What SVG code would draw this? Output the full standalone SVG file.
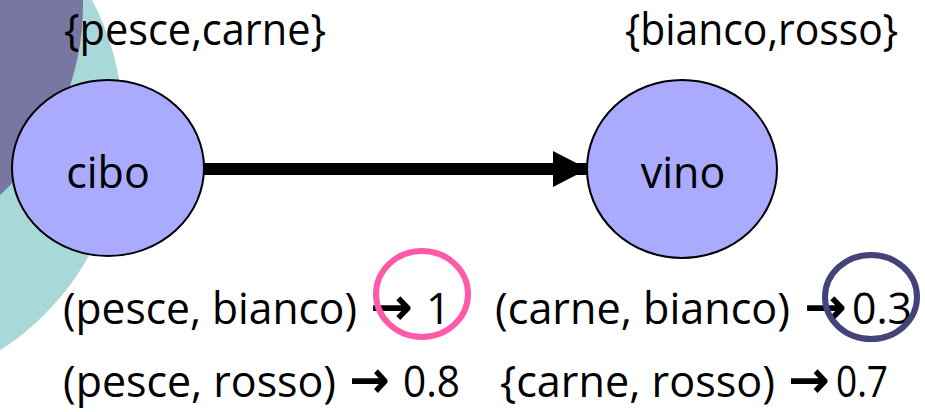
<svg xmlns="http://www.w3.org/2000/svg" width="925" height="412" viewBox="0 0 925 412">
<style>
.t{font-family:"Open Sans","Liberation Sans",sans-serif;font-size:43px;fill:#000}
.ar{font-family:"DejaVu Sans",sans-serif;font-size:50px;stroke:#000;stroke-width:1.6}
.node{fill:#AAAAFF;stroke:#000;stroke-width:2}
</style>
<defs>
<marker id="head" markerWidth="35" markerHeight="36" refX="35" refY="18" orient="auto" markerUnits="userSpaceOnUse">
<path d="M0,0 L35,18 L0,36 Z" fill="#000"/>
</marker>
</defs>
<g id="background">
<circle cx="-145" cy="125" r="268" fill="#A8D8D8"/>
<circle cx="-176" cy="5" r="259" fill="#7777A2"/>
</g>
<g id="connectors">
<line x1="204" y1="169" x2="588" y2="169" stroke="#000" stroke-width="12" marker-end="url(#head)"/>
</g>
<g id="cibo">
<ellipse class="node" cx="108" cy="168" rx="96" ry="88"/>
<text class="t" x="108" y="188" text-anchor="middle">cibo</text>
</g>
<g id="vino">
<ellipse class="node" cx="682" cy="169" rx="95" ry="89"/>
<text class="t" x="683" y="188" text-anchor="middle">vino</text>
</g>
<text class="t" x="64" y="45" textLength="262" lengthAdjust="spacingAndGlyphs">{pesce,carne}</text>
<text class="t" x="625" y="45" textLength="273" lengthAdjust="spacingAndGlyphs">{bianco,rosso}</text>
<text class="t" y="324"><tspan x="63" textLength="294" lengthAdjust="spacingAndGlyphs">(pesce, bianco)</tspan><tspan class="ar" x="371" textLength="41" lengthAdjust="spacingAndGlyphs">→</tspan><tspan x="426">1</tspan></text>
<text class="t" y="324"><tspan x="495" textLength="295" lengthAdjust="spacingAndGlyphs">(carne, bianco)</tspan><tspan class="ar" x="805" textLength="41" lengthAdjust="spacingAndGlyphs">→</tspan><tspan x="852" textLength="60" lengthAdjust="spacingAndGlyphs">0.3</tspan></text>
<text class="t" y="397"><tspan x="63" textLength="273" lengthAdjust="spacingAndGlyphs">(pesce, rosso)</tspan><tspan class="ar" x="350" textLength="39" lengthAdjust="spacingAndGlyphs">→</tspan><tspan x="403" textLength="57" lengthAdjust="spacingAndGlyphs">0.8</tspan></text>
<text class="t" y="397"><tspan x="500" textLength="275" lengthAdjust="spacingAndGlyphs">{carne, rosso)</tspan><tspan class="ar" x="789" textLength="40" lengthAdjust="spacingAndGlyphs">→</tspan><tspan x="836" textLength="52" lengthAdjust="spacingAndGlyphs">0.7</tspan></text>
<ellipse cx="422" cy="294" rx="46" ry="43" fill="none" stroke="#FF5AAA" stroke-width="6"/>
<ellipse cx="871" cy="297" rx="46" ry="42" fill="none" stroke="#43437A" stroke-width="6"/>
</svg>
